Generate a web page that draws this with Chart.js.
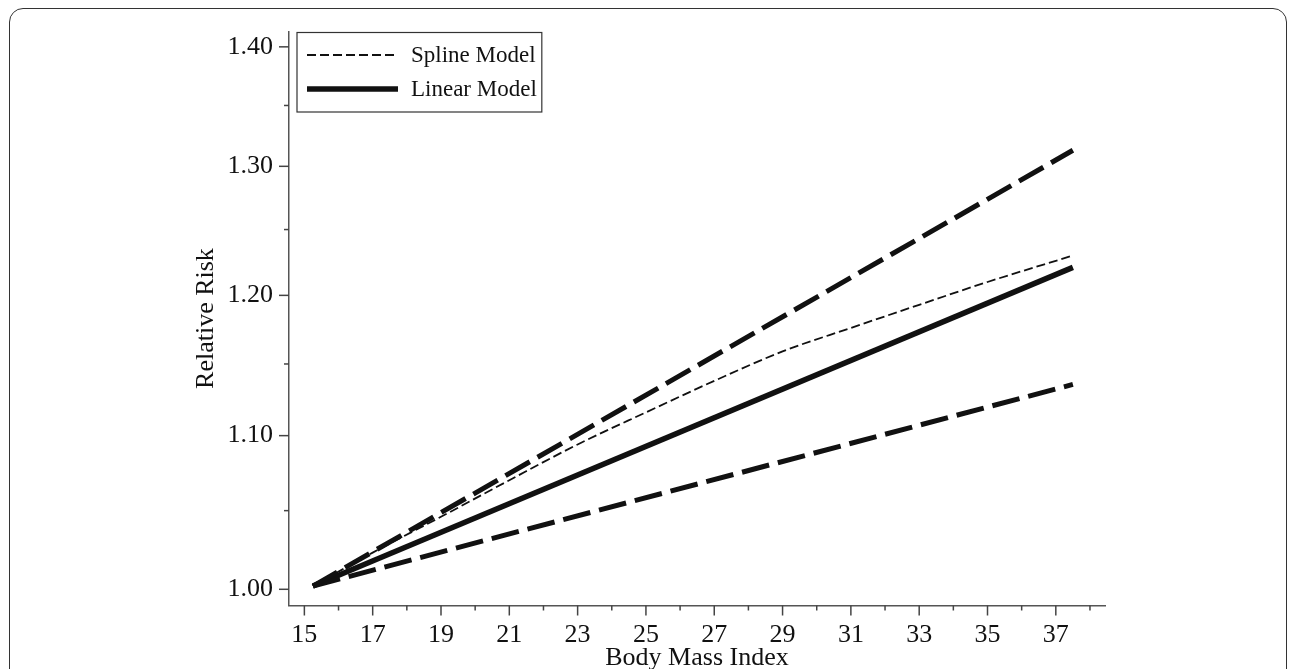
<!DOCTYPE html>
<html><head><meta charset="utf-8">
<script src="https://cdn.jsdelivr.net/npm/chart.js@4/dist/chart.umd.min.js"></script>
<style>
html,body{margin:0;padding:0;background:#fff;}
#wrap{position:relative;width:1292px;height:669px;overflow:hidden;background:#fff;}
#frame{position:absolute;left:9px;top:8px;width:1278px;height:720px;border:1.5px solid #333;border-radius:14px;box-sizing:border-box;}
canvas{position:absolute;left:0;top:0;}
</style></head><body>
<div id="wrap"><div id="frame"></div><canvas id="c" width="1292" height="669"></canvas></div>
<script>
// ---- data ----
const xTickValues = [15,16,17,18,19,20,21,22,23,24,25,26,27,28,29,30,31,32,33,34,35,36,37,38];
const xTickLabels = ['15','','17','','19','','21','','23','','25','','27','','29','','31','','33','','35','','37',''];
const yTickValues = [1.00,1.05,1.10,1.15,1.20,1.25,1.30,1.35,1.40];
const yTickLabels = ['1.00','','1.10','','1.20','','1.30','','1.40'];

const splineBMI = [15.25,17,19,21,23,25,27,29,31,33,35,37.5];
const splineRR  = [1.002,1.023,1.046,1.070,1.094,1.116,1.138,1.159,1.176,1.193,1.210,1.230];

const lineBMI  = [15.25,37.5];
const linearRR = [1.002,1.221];
const upperRR  = [1.002,1.313];
const lowerRR  = [1.002,1.1355];

const seriesNames = ['Spline Model','Linear Model'];
const xTitle = 'Body Mass Index';
const yTitle = 'Relative Risk';

const FONT = "'Liberation Serif','Times New Roman',serif";
const FS = 26;
const LFS = 23;
const INK = '#111';

function pts(xs, ys){ return xs.map((x,i)=>({x:x,y:ys[i]})); }

const legendPlugin = {
  id:'boxLegend',
  afterDraw(chart){
    const ctx = chart.ctx;
    const ds = chart.data.datasets.filter(d=>d.inLegend);
    ctx.save();
    ctx.font = LFS + 'px ' + FONT;
    let maxW = 0; ds.forEach(d=>{maxW=Math.max(maxW, ctx.measureText(d.label).width);});
    const left = 297, top = 32.5, sampleL = 307, sampleR = 398, textX = 411;
    const right = textX + maxW + 5, bottom = 112;
    ctx.strokeStyle = '#333'; ctx.lineWidth = 1.2;
    ctx.strokeRect(left, top, right-left, bottom-top);
    const rows = [55, 89];
    ds.forEach((d,i)=>{
      ctx.beginPath();
      ctx.setLineDash(d.borderDash || []);
      ctx.lineWidth = d.borderWidth; ctx.strokeStyle = d.borderColor; ctx.lineCap='butt';
      ctx.moveTo(sampleL, rows[i]); ctx.lineTo(sampleR, rows[i]); ctx.stroke();
      ctx.setLineDash([]);
      ctx.fillStyle = '#111'; ctx.textBaseline = 'middle'; ctx.textAlign='left';
      ctx.fillText(d.label, textX, rows[i]+1);
    });
    ctx.restore();
  }
};

const tickPlugin = {
  id:'tickMarks',
  afterDraw(chart){
    const ctx = chart.ctx, xs = chart.scales.x, ys = chart.scales.y;
    ctx.save(); ctx.strokeStyle = '#444'; ctx.lineWidth = 1.5;
    xTickValues.forEach((v,i)=>{
      const px = xs.getPixelForValue(v), len = xTickLabels[i] ? 10 : 5;
      ctx.beginPath(); ctx.moveTo(px, xs.top); ctx.lineTo(px, xs.top+len); ctx.stroke();
    });
    yTickValues.forEach((v,i)=>{
      const py = ys.getPixelForValue(v), len = yTickLabels[i] ? 10 : 5;
      ctx.beginPath(); ctx.moveTo(ys.right, py); ctx.lineTo(ys.right-len, py); ctx.stroke();
    });
    ctx.restore();
  }
};

new Chart(document.getElementById('c'), {
  type:'line',
  data:{
    datasets:[
      {label:'Upper CI', data:pts(lineBMI, upperRR), borderColor:INK, borderWidth:5, borderDash:[28,9], pointRadius:0, fill:false},
      {label:'Lower CI', data:pts(lineBMI, lowerRR), borderColor:INK, borderWidth:5, borderDash:[28,9], pointRadius:0, fill:false},
      {label:seriesNames[0], inLegend:true, data:pts(splineBMI, splineRR), borderColor:INK, borderWidth:1.8, borderDash:[9,4], pointRadius:0, cubicInterpolationMode:'monotone', fill:false},
      {label:seriesNames[1], inLegend:true, data:pts(lineBMI, linearRR), borderColor:INK, borderWidth:5.5, pointRadius:0, fill:false}
    ]
  },
  options:{
    responsive:false, animation:false, devicePixelRatio:1,
    layout:{padding:{left:0, top:24.5, right:187, bottom:0}},
    plugins:{legend:{display:false}, tooltip:{enabled:false}},
    scales:{
      x:{
        type:'linear', min:14.55, max:38.44,
        afterBuildTicks(s){ s.ticks = xTickValues.map(v=>({value:v})); },
        afterFit(s){ s.height = 63.5; },
        grid:{display:false, drawTicks:false},
        border:{display:true, color:'#555', width:1.5},
        ticks:{autoSkip:false, maxRotation:0, padding:14, color:'#111', font:{family:FONT, size:FS},
          callback(v){ const i = xTickValues.indexOf(v); return i>=0 ? xTickLabels[i] : ''; }},
        title:{display:true, text:xTitle, color:'#111', font:{family:FONT, size:FS, lineHeight:1.2}, padding:{top:0,bottom:-5}}
      },
      y:{
        type:'logarithmic', min:0.991, max:1.4133,
        afterBuildTicks(s){ s.ticks = yTickValues.map(v=>({value:v})); },
        afterFit(s){ s.width = 289; },
        grid:{display:false, drawTicks:false},
        border:{display:true, color:'#555', width:1.5},
        ticks:{autoSkip:false, padding:16, color:'#111', font:{family:FONT, size:FS},
          callback(v){ const i = yTickValues.findIndex(t=>Math.abs(t-v)<1e-6); return i>=0 ? yTickLabels[i] : ''; }},
        title:{display:true, text:yTitle, color:'#111', font:{family:FONT, size:FS, lineHeight:1.2}, padding:{top:191,bottom:0}}
      }
    }
  },
  plugins:[tickPlugin, legendPlugin]
});
</script>
</body></html>
